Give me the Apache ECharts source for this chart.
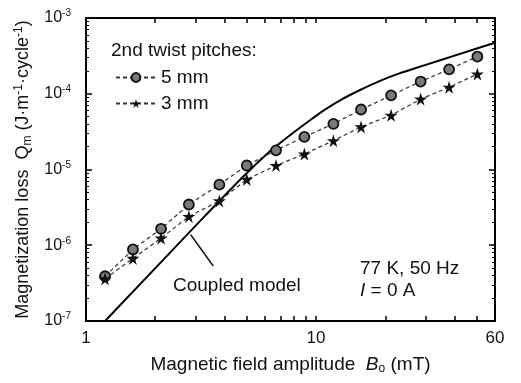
<!DOCTYPE html>
<html>
<head>
<meta charset="utf-8">
<script src="https://cdn.jsdelivr.net/npm/echarts@6/dist/echarts.min.js"></script>
<style>
html,body{margin:0;padding:0;background:#fff;}
#chart{width:521px;height:383px;}
</style>
</head>
<body>
<div id="chart"></div>
<script>
// Data
var fieldB = [1.21, 1.6, 2.12, 2.8, 3.8, 5.0, 6.7, 8.9, 11.9, 15.7, 21.2, 28.5, 37.9, 50.3];
var loss5mm = [3.9e-7, 8.8e-7, 1.65e-6, 3.45e-6, 6.3e-6, 1.13e-5, 1.79e-5, 2.7e-5, 4.0e-5, 6.2e-5, 9.5e-5, 1.45e-4, 2.1e-4, 3.1e-4];
var loss3mm = [3.6e-7, 6.7e-7, 1.24e-6, 2.4e-6, 3.85e-6, 7.4e-6, 1.13e-5, 1.6e-5, 2.4e-5, 3.65e-5, 5.2e-5, 8.5e-5, 1.22e-4, 1.82e-4];
var modelB = [1.21, 3.13, 4.44, 5.16, 5.82, 6.63, 7.94, 9.42, 10.94, 12.72, 15.54, 18.98, 23.19, 29.78, 42.27, 60];
var modelQ = [1.0e-7, 2.08e-6, 6.25e-6, 9.85e-6, 1.40e-5, 1.98e-5, 3.04e-5, 4.47e-5, 6.16e-5, 8.19e-5, 1.12e-4, 1.48e-4, 1.87e-4, 2.39e-4, 3.36e-4, 4.72e-4];
var xLabelValues = [1, 10, 60];
var xTickValues = [1, 2, 3, 4, 5, 6, 7, 8, 9, 10, 20, 30, 40, 50, 60];
var yMajorValues = [1e-7, 1e-6, 1e-5, 1e-4, 1e-3];
var yMinorValues = [];
[1e-7, 1e-6, 1e-5, 1e-4].forEach(function (d) { for (var k = 2; k <= 9; k++) yMinorValues.push(d * k); });

function pairs(xs, ys) { return xs.map(function (x, i) { return [x, ys[i]]; }); }

var FONT = 'Liberation Sans';
var starPath = 'path://M50,0 L61,35 L98,35 L68,57 L79,92 L50,70 L21,92 L32,57 L2,35 L39,35 Z';

var chart = echarts.init(document.getElementById('chart'), null, { renderer: 'canvas' });

function yLabelFmt(v) {
  var e = Math.round(Math.log10(v));
  return '{b|10}{s|' + e + '}';
}

var baseY = {
  type: 'log', logBase: 10, min: 1e-7, max: 1e-3, gridIndex: 0,
  splitLine: { show: false }, minorTick: { show: false }, minorSplitLine: { show: false }
};
var baseX = {
  type: 'log', logBase: 10, min: 1, max: 60, gridIndex: 0,
  splitLine: { show: false }, minorTick: { show: false }
};

var option = {
  animation: false,
  backgroundColor: '#fff',
  textStyle: { fontFamily: FONT },
  grid: { left: 86, right: 26, top: 18, bottom: 62, containLabel: false },
  legend: {
    show: true,
    data: ['5 mm', '3 mm'],
    orient: 'vertical',
    left: 110, top: 63,
    itemWidth: 40, itemHeight: 11, itemGap: 7,
    textStyle: { fontFamily: FONT, fontSize: 19, color: '#111' },
    inactiveColor: '#111'
  },
  xAxis: [
    Object.assign({}, baseX, {
      position: 'bottom',
      axisLine: { show: true, lineStyle: { color: '#000', width: 2 } },
      axisTick: { show: true, inside: true, length: 5, customValues: xTickValues, lineStyle: { color: '#000', width: 1.5 } },
      axisLabel: { show: true, customValues: xLabelValues, fontFamily: FONT, fontSize: 17, color: '#111', margin: 9,
        formatter: function (v) { return String(Math.round(v)); } },
      name: '{t|Magnetic field amplitude  }{i|B}{sub|o}{t| (mT)}',
      nameLocation: 'middle', nameGap: 33,
      nameTextStyle: { rich: {
        t: { fontFamily: FONT, fontSize: 19, color: '#111' },
        i: { fontFamily: FONT, fontSize: 19, color: '#111', fontStyle: 'italic' },
        sub: { fontFamily: FONT, fontSize: 12, color: '#111', padding: [9, 0, 0, 0] }
      } }
    }),
    Object.assign({}, baseX, {
      position: 'top',
      axisLine: { show: true, onZero: false, lineStyle: { color: '#000', width: 2 } },
      axisTick: { show: true, inside: true, length: 5, customValues: xTickValues, lineStyle: { color: '#000', width: 1.5 } },
      axisLabel: { show: false }
    })
  ],
  yAxis: [
    Object.assign({}, baseY, {
      position: 'left',
      axisLine: { show: true, lineStyle: { color: '#000', width: 2 } },
      axisTick: { show: true, inside: true, length: 6, customValues: yMajorValues, lineStyle: { color: '#000', width: 1.5 } },
      axisLabel: { show: true, customValues: yMajorValues, margin: 15, formatter: yLabelFmt,
        rich: {
          b: { fontFamily: FONT, fontSize: 16, color: '#111' },
          s: { fontFamily: FONT, fontSize: 10, color: '#111', padding: [0, 0, 9, 0] }
        } },
      name: '{t|Magnetization loss  Q}{sub|m}{t| (J·m}{sup|-1}{t|·cycle}{sup|-1}{t|)}',
      nameLocation: 'middle', nameGap: 51, nameRotate: 90,
      nameTextStyle: { rich: {
        t: { fontFamily: FONT, fontSize: 18, color: '#111' },
        sub: { fontFamily: FONT, fontSize: 12, color: '#111', padding: [9, 0, 0, 0] },
        sup: { fontFamily: FONT, fontSize: 12, color: '#111', padding: [0, 0, 9, 0] }
      } }
    }),
    Object.assign({}, baseY, {
      position: 'left',
      axisLine: { show: false },
      axisTick: { show: true, inside: true, length: 3, customValues: yMinorValues, lineStyle: { color: '#000', width: 1 } },
      axisLabel: { show: false }
    }),
    Object.assign({}, baseY, {
      position: 'right',
      axisLine: { show: true, lineStyle: { color: '#000', width: 2 } },
      axisTick: { show: true, inside: true, length: 6, customValues: yMajorValues, lineStyle: { color: '#000', width: 1.5 } },
      axisLabel: { show: false }
    }),
    Object.assign({}, baseY, {
      position: 'right',
      axisLine: { show: false },
      axisTick: { show: true, inside: true, length: 3, customValues: yMinorValues, lineStyle: { color: '#000', width: 1 } },
      axisLabel: { show: false }
    })
  ],
  graphic: [
    { type: 'text', left: 111, top: 41, style: { text: '2nd twist pitches:', fontFamily: FONT, fontSize: 19, fill: '#111' } },
    { type: 'text', left: 173, top: 276, style: { text: 'Coupled model', fontFamily: FONT, fontSize: 19, fill: '#111' } },
    { type: 'text', left: 360, top: 259, style: { text: '77 K, 50 Hz', fontFamily: FONT, fontSize: 19, fill: '#111' } },
    { type: 'text', left: 360, top: 281, style: {
      text: '{i|I}{t| = 0 A}',
      rich: { i: { fontFamily: FONT, fontSize: 19, fontStyle: 'italic', fill: '#111' }, t: { fontFamily: FONT, fontSize: 19, fill: '#111' } }
    } }
  ],
  series: [
    {
      name: 'Coupled model', type: 'line', xAxisIndex: 0, yAxisIndex: 0,
      data: pairs(modelB, modelQ), smooth: 0.2, showSymbol: false, symbol: 'none',
      lineStyle: { color: '#000', width: 2 },
      z: 3,
      markLine: {
        silent: true, symbol: ['none', 'arrow'], symbolSize: [0, 7],
        lineStyle: { color: '#000', width: 1.5, type: 'solid' },
        label: { show: false },
        data: [[{ coord: [3.57, 5.35e-7] }, { coord: [2.85, 1.38e-6] }]]
      }
    },
    {
      name: '5 mm', type: 'line', xAxisIndex: 0, yAxisIndex: 0,
      data: pairs(fieldB, loss5mm),
      symbol: 'circle', symbolSize: 10, showAllSymbol: true,
      itemStyle: { color: '#7a7a7a', borderColor: '#111', borderWidth: 1.8 },
      lineStyle: { color: '#333', width: 1.2, type: [4, 3] },
      z: 4
    },
    {
      name: '3 mm', type: 'line', xAxisIndex: 0, yAxisIndex: 0,
      data: pairs(fieldB, loss3mm),
      symbol: starPath, symbolSize: 13, showAllSymbol: true,
      itemStyle: { color: '#111', borderColor: '#111', borderWidth: 0 },
      lineStyle: { color: '#333', width: 1.2, type: [4, 3] },
      z: 4
    }
  ]
};
chart.setOption(option);
</script>
</body>
</html>
